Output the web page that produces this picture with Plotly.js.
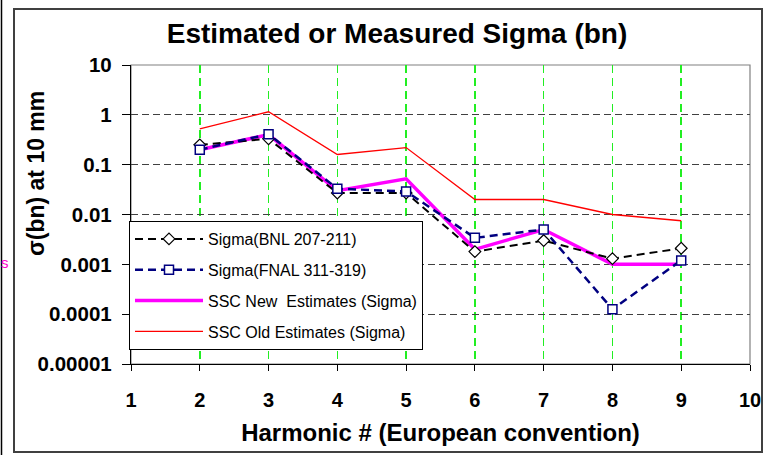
<!DOCTYPE html>
<html>
<head>
<meta charset="utf-8">
<script src="https://cdn.plot.ly/plotly-3.0.1.min.js"></script>
<style>html,body{margin:0;padding:0;background:#fff;}#chart{width:769px;height:455px;}</style>
</head>
<body>
<div id="chart"></div>
<script>
// ---- data ----
var harmonics = [2, 3, 4, 5, 6, 7, 8, 9];
var bnlSigma  = [0.25, 0.33, 0.027, 0.027, 0.0018, 0.003, 0.0013, 0.0021];
var fnalSigma = [0.2, 0.41, 0.033, 0.029, 0.0034, 0.005, 0.000126, 0.0012];
var sscNew    = [0.2, 0.4, 0.03, 0.052, 0.002, 0.005, 0.001, 0.001];
var sscOld    = [0.52, 1.15, 0.16, 0.22, 0.02, 0.02, 0.01, 0.0075];
var seriesNames = ['Sigma(BNL 207-211)', 'Sigma(FNAL 311-319)', 'SSC New  Estimates (Sigma)', 'SSC Old Estimates (Sigma)'];
var yTickVals = [0.00001, 0.0001, 0.001, 0.01, 0.1, 1, 10];
var yTickText = ['0.00001', '0.0001', '0.001', '0.01', '0.1', '1', '10'];
var xTickVals = [1, 2, 3, 4, 5, 6, 7, 8, 9, 10];

// ---- layout helpers (pixel -> paper) ----
var W = 769, H = 455, L = 131, R = 750, T = 65, B = 364;
function px(x) { return (x - L) / (R - L); }
function py(y) { return (B - y) / (B - T); }

var FONT = 'Liberation Sans, Arial, sans-serif';

var traces = [
  {x: harmonics, y: sscOld, name: seriesNames[3], mode: 'lines', legendrank: 4, legendgroup: 'd',
   line: {color: '#ff0000', width: 1.3}},
  {x: harmonics, y: sscNew, name: seriesNames[2], mode: 'lines', legendrank: 3, legendgroup: 'c',
   line: {color: '#ff00ff', width: 3.5}},
  {x: harmonics, y: bnlSigma, name: seriesNames[0], mode: 'lines+markers', legendrank: 1, legendgroup: 'a',
   line: {color: '#000000', width: 2, dash: '8px,5px'},
   marker: {symbol: 'diamond', size: 9, color: '#ffffff', line: {color: '#000000', width: 1.2}}},
  {x: harmonics, y: fnalSigma, name: seriesNames[1], mode: 'lines+markers', legendrank: 2, legendgroup: 'b',
   line: {color: '#000080', width: 2.5, dash: '8px,5px'},
   marker: {symbol: 'square', size: 9, color: '#ffffff', line: {color: '#000080', width: 1.5}}}
];

var layout = {
  width: W, height: H,
  margin: {l: L, r: W - R, t: T, b: H - B, pad: 0},
  paper_bgcolor: '#ffffff', plot_bgcolor: '#ffffff',
  font: {family: FONT, color: '#000000'},
  title: {text: 'Estimated or Measured Sigma (bn)', font: {family: FONT, size: 28, weight: 'bold', color: '#000'},
          x: 397 / W, xref: 'container', xanchor: 'center', y: 1 - 33 / H, yref: 'container', yanchor: 'middle'},
  xaxis: {range: [1, 10], tickvals: xTickVals, ticks: 'outside', ticklen: 6, tickcolor: '#000', tickwidth: 1,
          showline: true, linecolor: '#000', linewidth: 1.2, zeroline: false,
          showgrid: true, gridcolor: '#22ee22', gridwidth: 1.5, griddash: '8px,5px', ticklabelstandoff: 12,
          tickfont: {family: FONT, size: 20, weight: 'bold', color: '#000'},
          title: {text: 'Harmonic # (European convention)', standoff: 14,
                  font: {family: FONT, size: 24, weight: 'bold', color: '#000'}}},
  yaxis: {type: 'log', range: [-5, 1], tickvals: yTickVals, ticktext: yTickText, ticks: 'outside', ticklen: 8,
          tickcolor: '#000', tickwidth: 1, showline: true, linecolor: '#000', linewidth: 1.2, zeroline: false,
          showgrid: true, gridcolor: '#404040', gridwidth: 1, griddash: '7px,4px', ticklabelstandoff: 6,
          tickfont: {family: FONT, size: 20.5, weight: 'bold', color: '#000'}},
  showlegend: true,
  legend: {x: px(129), y: py(221), xanchor: 'left', yanchor: 'top', bgcolor: '#ffffff',
           bordercolor: '#000000', borderwidth: 1, tracegroupgap: 7, itemwidth: 68,
           font: {family: FONT, size: 16, color: '#000'}},
  shapes: [
    {type: 'rect', xref: 'paper', yref: 'paper', x0: 0, x1: 1, y0: 0, y1: 1, line: {color: '#808080', width: 1.2}, layer: 'below'},
    {type: 'rect', xref: 'paper', yref: 'paper', x0: px(14), x1: px(762), y0: py(452), y1: py(9), line: {color: '#404040', width: 2}},
    {type: 'line', xref: 'paper', yref: 'paper', x0: px(1.5), x1: px(1.5), y0: py(455), y1: py(0), line: {color: '#000000', width: 1.5}}
  ],
  annotations: [
    {text: 'σ(bn) at 10 mm', xref: 'paper', yref: 'paper', x: px(36), y: py(174), xanchor: 'center', yanchor: 'middle',
     textangle: -90, showarrow: false, font: {family: FONT, size: 23, weight: 'bold', color: '#000'}},
    {text: 's', xref: 'paper', yref: 'paper', x: px(0), y: py(262), xanchor: 'left', yanchor: 'middle',
     showarrow: false, borderpad: 0, font: {family: FONT, size: 15, color: '#ff00cc'}}
  ]
};

Plotly.newPlot('chart', traces, layout, {displayModeBar: false, staticPlot: true});
</script>
</body>
</html>
